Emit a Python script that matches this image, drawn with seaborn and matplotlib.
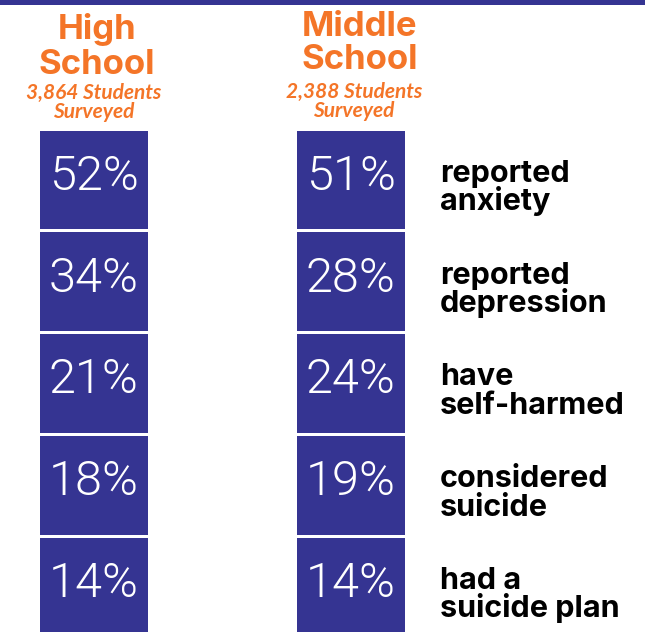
import matplotlib
matplotlib.use("Agg")
import matplotlib.pyplot as plt
from matplotlib.colors import ListedColormap
from matplotlib.patches import Rectangle
from matplotlib.transforms import ScaledTranslation
import numpy as np
import pandas as pd
import seaborn as sns

# Survey results
groups = ["High\nSchool", "Middle\nSchool"]
students_surveyed = [3864, 2388]
outcomes = ["reported\nanxiety", "reported\ndepression", "have\nself-harmed",
            "considered\nsuicide", "had a\nsuicide plan"]
high_school_pct = [52, 34, 21, 18, 14]
middle_school_pct = [51, 28, 24, 19, 14]

PURPLE = "#353492"
ORANGE = "#F47528"

sns.set_theme(style="white")
plt.rcParams["font.family"] = ["Inter", "DejaVu Sans"]

W, H = 645, 632
fig = plt.figure(figsize=(W / 100, H / 100), dpi=100)


def fx(x):
    return x / W


def fy(y):
    return 1 - y / H


# banner strip along the top
fig.patches.append(Rectangle((0, fy(5)), 1, 5 / H, transform=fig.transFigure,
                             facecolor=PURPLE, edgecolor="none", zorder=0))

row_h = 101.7
top = 128.75
columns = [
    (high_school_pct, 37.75, 97, 94),
    (middle_school_pct, 294.75, 360, 354),
]
col_w = 111.5

for i, (vals, left, head_x, sub_x) in enumerate(columns):
    ax = fig.add_axes([fx(left), fy(top + 5 * row_h), col_w / W, 5 * row_h / H])
    df = pd.DataFrame({"pct": vals}, index=outcomes)
    labels = np.array([[f"{v}%"] for v in vals])
    shift = ScaledTranslation(0, 3.0 / 100, fig.dpi_scale_trans)
    sns.heatmap(df, ax=ax, cmap=ListedColormap([PURPLE]), cbar=False,
                annot=labels, fmt="", linewidths=1.8, linecolor="white",
                annot_kws=dict(color="white", fontsize=35, fontweight=300,
                               family=["Roboto", "DejaVu Sans"],
                               transform=ax.transData + shift))
    ax.set_xticks([])
    ax.set_yticks([])
    ax.set_xlabel("")
    ax.set_ylabel("")
    for s in ax.spines.values():
        s.set_visible(False)

# column headers
head_lines = [(39, 74), (36, 69)]
sub_base = [118, 117]
for i, (grp, n) in enumerate(zip(groups, students_surveyed)):
    _, _, hx, sx = columns[i]
    l1, l2 = grp.split("\n")
    b1, b2 = head_lines[i]
    fig.text(fx(hx), fy(b1), l1, ha="center", va="baseline", color=ORANGE,
             fontsize=25, fontweight="bold")
    fig.text(fx(hx), fy(b2), l2, ha="center", va="baseline", color=ORANGE,
             fontsize=25, fontweight="bold")
    fig.text(fx(sx), fy(sub_base[i]), f"{n:,} Students\nSurveyed",
             ha="center", va="baseline", multialignment="center",
             linespacing=0.92, color=ORANGE, fontsize=15, fontweight="bold",
             fontstyle="italic", family=["Lato", "DejaVu Sans"])

# outcome labels beside the rows
for r, lab in enumerate(outcomes):
    c = top + 1.25 + row_h * r + 49.5
    l1, l2 = lab.split("\n")
    fig.text(fx(440), fy(c + 2.5), l1, ha="left", va="baseline", color="black",
             fontsize=22, fontweight="bold")
    fig.text(fx(440), fy(c + 31), l2, ha="left", va="baseline", color="black",
             fontsize=22, fontweight="bold")

fig.savefig("out.png", dpi=100)
